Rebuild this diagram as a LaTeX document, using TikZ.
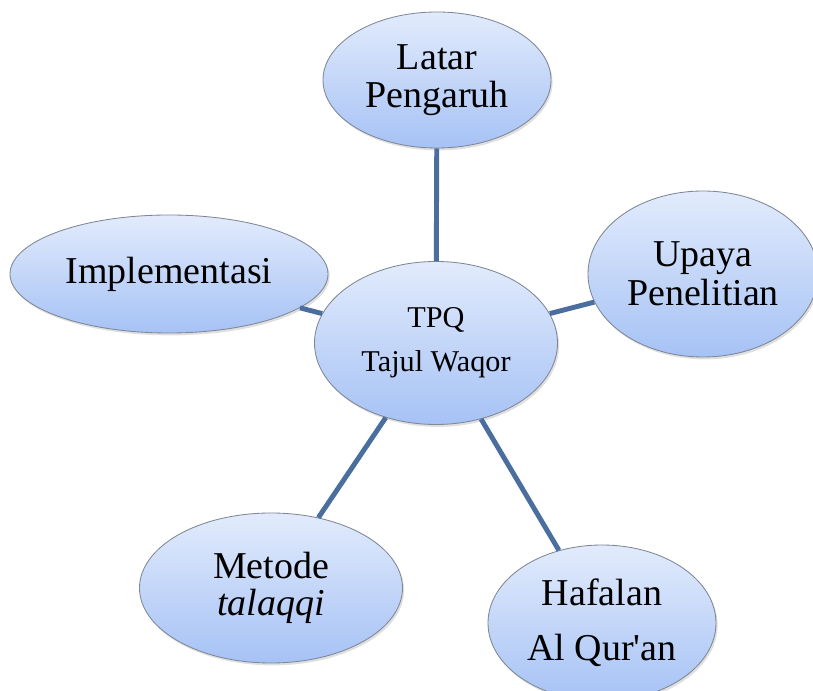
\documentclass[tikz,border=0pt]{standalone}
\usepackage{fontspec}
\setmainfont{Liberation Serif}
\usepackage{tikz}
\usetikzlibrary{shapes.geometric, shadows}
\definecolor{bubbletop}{HTML}{E2EBFC}
\definecolor{bubblebot}{HTML}{A6C2F5}
\definecolor{bubbleline}{HTML}{7E8794}
\definecolor{linkblue}{HTML}{4A6E9E}
\tikzstyle{bubble} = [ellipse, draw=bubbleline, line width=0.6pt, top color=bubbletop, bottom color=bubblebot, inner sep=0pt, align=center, drop shadow={opacity=0.25, shadow xshift=0.04cm, shadow yshift=-0.06cm}]
\tikzstyle{link} = [draw=linkblue, line width=3.5pt]

\begin{document}
\begin{tikzpicture}
\useasboundingbox (-10.9,-8.7) rectangle (9.425,8.575);
\node (tpq) [bubble, minimum width=6.075cm, minimum height=4.075cm, font=\fontsize{21.5}{31}\selectfont] at (0,0) {TPQ\\Tajul Waqor};
\node (latar) [bubble, minimum width=5.7cm, minimum height=3.4cm, font=\fontsize{27}{27}\selectfont] at (0.025,6.575) {Latar\\Pengaruh};
\node (upaya) [bubble, minimum width=5.75cm, minimum height=4.15cm, font=\fontsize{27}{27.7}\selectfont] at (6.675,1.725) {Upaya\\Penelitian};
\node (impl) [bubble, minimum width=7.95cm, minimum height=2.95cm, font=\fontsize{27}{27}\selectfont] at (-6.675,1.725) {Implementasi};
\node (metode) [bubble, minimum width=6.575cm, minimum height=3.75cm, font=\fontsize{27}{26}\selectfont] at (-4.125,-6.125) {Metode\\\textit{talaqqi}};
\node (hafalan) [bubble, minimum width=5.7cm, minimum height=3.9cm, font=\fontsize{27}{39}\selectfont] at (4.15,-7.0) {Hafalan\\Al Qur\textquotesingle an};

\draw [link] (tpq) -- (latar);
\draw [link] (tpq) -- (upaya);
\draw [link] (tpq) -- (impl);
\draw [link] (tpq) -- (metode);
\draw [link] (tpq) -- (hafalan);
\end{tikzpicture}
\end{document}
